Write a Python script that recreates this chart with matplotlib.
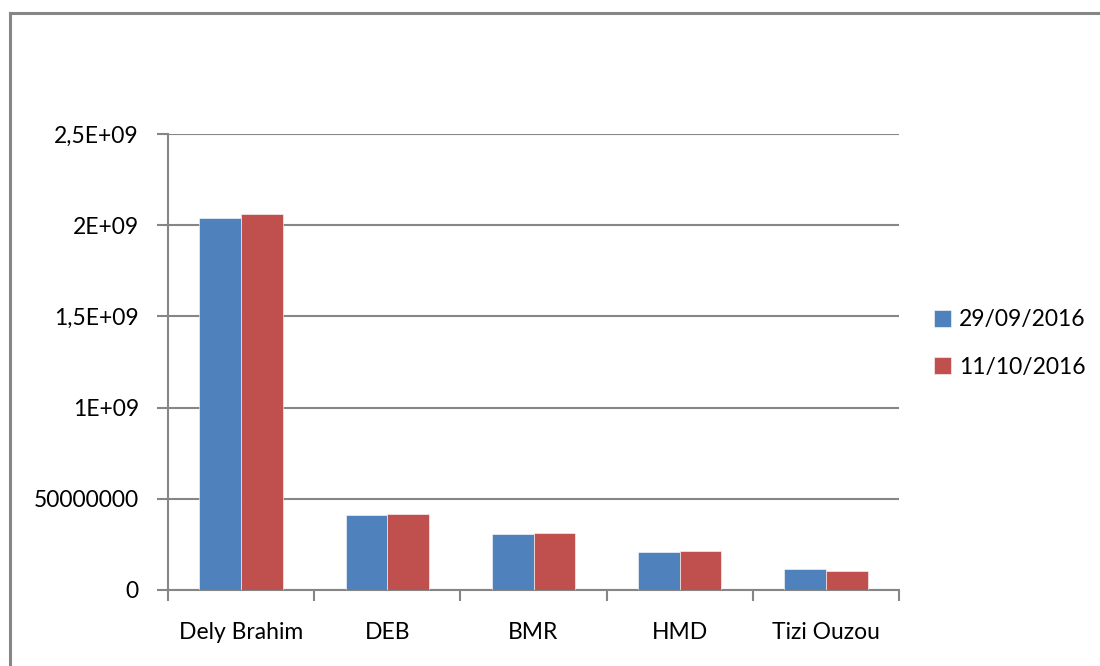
import matplotlib
matplotlib.use('Agg')
import matplotlib.pyplot as plt
import numpy as np
from matplotlib.lines import Line2D

# values
sites = ['Dely Brahim', 'DEB', 'BMR', 'HMD', 'Tizi Ouzou']
sept_29 = [2.037e9, 0.412e9, 0.306e9, 0.211e9, 0.114e9]
oct_11 = [2.064e9, 0.416e9, 0.311e9, 0.212e9, 0.103e9]
series_labels = ['29/09/2016', '11/10/2016']
y_ticks = [0, 0.5e9, 1e9, 1.5e9, 2e9, 2.5e9]
y_tick_labels = ['0', '50000000', '1E+09', '1,5E+09', '2E+09', '2,5E+09']

plt.rcParams['font.family'] = ['Lato', 'DejaVu Sans']
grey = '#868686'
fs = 16.5

fig = plt.figure(figsize=(11, 6.66), dpi=100)
ax = fig.add_axes([168 / 1100, 1 - 590 / 666, 731 / 1100, 456 / 666])

x = np.arange(len(sites))
w = 1 / 3.5
ax.bar(x - w / 2, sept_29, w, color='#4F81BD', edgecolor='#ffffff', linewidth=0.4,
       label=series_labels[0], zorder=3)
ax.bar(x + w / 2, oct_11, w, color='#C0504D', edgecolor='#ffffff', linewidth=0.4,
       label=series_labels[1], zorder=3)

ax.set_xlim(-0.5, len(sites) - 0.5)
ax.set_ylim(0, 2.5e9)
ax.set_yticks(y_ticks)
ax.set_yticklabels(y_tick_labels)
ax.yaxis.grid(True, color=grey, linewidth=1.5, zorder=0)

ax.set_xticks(x)
ax.set_xticklabels(sites)
ax.set_xticks(np.arange(-0.5, len(sites)), minor=True)
ax.tick_params(axis='x', which='major', length=0, pad=23, labelsize=fs)
ax.tick_params(axis='x', which='minor', length=8, width=1.5, color=grey)
ax.tick_params(axis='y', length=8, width=1.5, color=grey, pad=13, labelsize=fs)

for side in ['top', 'right']:
    ax.spines[side].set_visible(False)
for side in ['left', 'bottom']:
    ax.spines[side].set_color(grey)
    ax.spines[side].set_linewidth(1.5)

leg = fig.legend(loc='upper left', bbox_to_anchor=(925 / 1100, 1 - 300 / 666),
                 frameon=False, fontsize=fs, handlelength=0.75, handleheight=0.75,
                 handletextpad=0.35, labelspacing=1.15, borderaxespad=0)

# chart area border: only top and left edges are inside the picture
bx, by = 10 / 1100, 1 - 13 / 666
fig.add_artist(Line2D([bx, 1.01], [by, by], transform=fig.transFigure,
                      color=grey, linewidth=2.2))
fig.add_artist(Line2D([bx, bx], [-0.01, by], transform=fig.transFigure,
                      color=grey, linewidth=2.2))

fig.savefig('out.png', dpi=100)
